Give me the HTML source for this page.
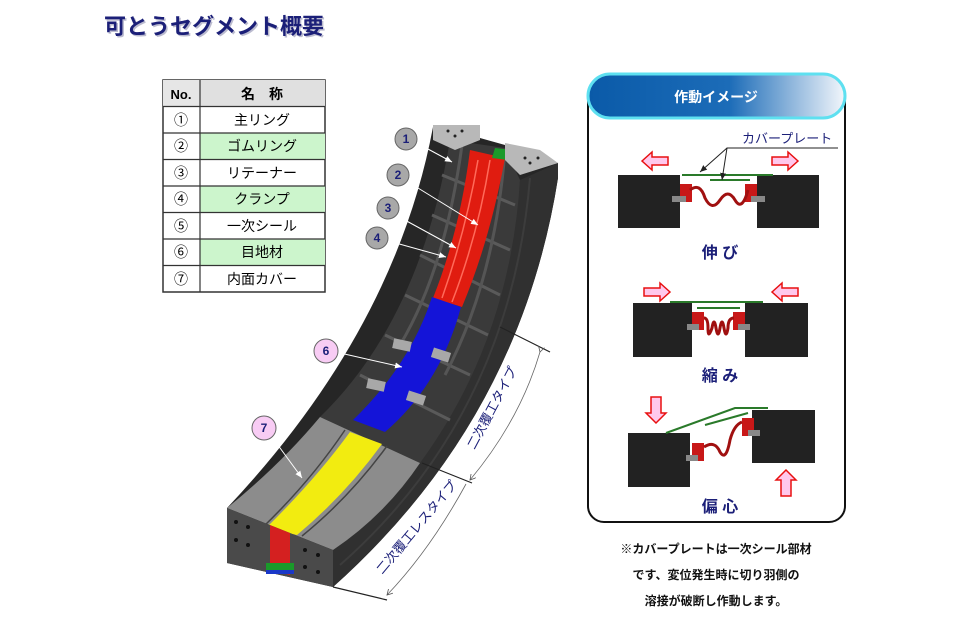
<!DOCTYPE html>
<html><head><meta charset="utf-8">
<style>
body{margin:0;background:#fff;width:957px;height:633px;overflow:hidden;font-family:"Liberation Sans","Noto Sans CJK JP",sans-serif;}
svg{position:absolute;left:0;top:0}
</style></head><body>
<svg width="957" height="633" viewBox="0 0 957 633" xmlns="http://www.w3.org/2000/svg" font-family="'Liberation Sans','Noto Sans CJK JP',sans-serif">
<defs>
<linearGradient id="hd" x1="0" x2="1" y1="0" y2="0">
<stop offset="0" stop-color="#0a5aa8"/><stop offset="0.55" stop-color="#1c6cb8"/><stop offset="1" stop-color="#f2f6fb"/>
</linearGradient>
<marker id="ar" markerWidth="8" markerHeight="8" refX="7" refY="4" orient="auto"><path d="M0,0 L7,4 L0,8" fill="none" stroke="#555" stroke-width="1"/></marker>
<marker id="aw" markerWidth="8" markerHeight="8" refX="7" refY="4" orient="auto"><path d="M0,1 L7,4 L0,7 z" fill="#fff"/></marker>
<marker id="ak" markerWidth="8" markerHeight="8" refX="7" refY="4" orient="auto"><path d="M0,1 L7,4 L0,7 z" fill="#222"/></marker>
</defs>

<text x="104" y="34" font-size="22" font-weight="bold" fill="#7a7aa0" opacity="0.5" transform="translate(1.5,1.5)">可とうセグメント概要</text>
<text x="104" y="34" font-size="22" font-weight="bold" fill="#1b1f78">可とうセグメント概要</text>

<g font-size="14" fill="#000">
<rect x="163" y="80" width="162" height="212" fill="#fff" stroke="#333" stroke-width="1.5"/>
<rect x="163" y="80" width="37" height="26" fill="#e6e6e6"/>
<rect x="200" y="80" width="125" height="26" fill="#e0e0e0"/>
<rect x="200" y="133" width="125" height="26.5" fill="#ccf5cc"/>
<rect x="200" y="186" width="125" height="26.5" fill="#ccf5cc"/>
<rect x="200" y="239" width="125" height="26.5" fill="#ccf5cc"/>
<g stroke="#333" stroke-width="1.2">
<line x1="200" y1="80" x2="200" y2="292"/>
<line x1="163" y1="106.5" x2="325" y2="106.5"/>
<line x1="163" y1="133" x2="325" y2="133"/>
<line x1="163" y1="159.5" x2="325" y2="159.5"/>
<line x1="163" y1="186" x2="325" y2="186"/>
<line x1="163" y1="212.5" x2="325" y2="212.5"/>
<line x1="163" y1="239" x2="325" y2="239"/>
<line x1="163" y1="265.5" x2="325" y2="265.5"/>
</g>
<text x="181" y="99" font-weight="bold" text-anchor="middle" font-size="13">No.</text>
<text x="262" y="99" font-weight="bold" text-anchor="middle">名　称</text>
<g text-anchor="middle">
<text x="181" y="125">①</text><text x="262" y="125">主リング</text>
<text x="181" y="151">②</text><text x="262" y="151">ゴムリング</text>
<text x="181" y="178">③</text><text x="262" y="178">リテーナー</text>
<text x="181" y="204">④</text><text x="262" y="204">クランプ</text>
<text x="181" y="231">⑤</text><text x="262" y="231">一次シール</text>
<text x="181" y="257">⑥</text><text x="262" y="257">目地材</text>
<text x="181" y="284">⑦</text><text x="262" y="284">内面カバー</text>
</g>
</g>

<!-- Segment -->
<path d="M433,127 Q395,330 227,508 L227,563 L333,587 Q520,420 558,178 L558,163 L505,145 L480,138 L480,128 Z" fill="#262626"/>
<path d="M520,180 Q500,410 333,550 L333,587 Q520,420 558,178 L558,163 Z" fill="#303030"/>
<path d="M530,178 Q510,415 340,565" stroke="#3c3c3c" stroke-width="2" fill="none"/>
<path d="M450,140 Q420,320 320,417 L420,463 Q510,340 520,180 L505,148 Z" fill="#3a3a3a"/>
<g stroke="#5a5a5a" stroke-width="3">
<line x1="442" y1="175" x2="515" y2="205"/>
<line x1="432" y1="215" x2="510" y2="250"/>
<line x1="420" y1="255" x2="500" y2="295"/>
<line x1="405" y1="295" x2="488" y2="335"/>
<line x1="385" y1="335" x2="470" y2="375"/>
<line x1="360" y1="375" x2="450" y2="420"/>
</g>
<path d="M462,145 Q445,270 400,345 M505,150 Q495,280 445,375" stroke="#555" stroke-width="3" fill="none"/>
<path d="M470,150 L505,158 Q490,240 462,307 L433,298 Q460,230 470,150Z" fill="#e01c10"/>
<path d="M478,160 Q466,230 442,298 M490,160 Q478,235 452,302" stroke="#ff6a5a" stroke-width="1.5" fill="none"/>
<path d="M495,148 L512,150 L508,160 L492,158Z" fill="#1a9a2a"/>
<path d="M432,297 L461,307 Q440,385 385,432 L353,420 Q410,365 432,297Z" fill="#1414d8"/>
<g fill="#a8a8a8"><rect x="393" y="340" width="18" height="10" transform="rotate(12 402 345)"/><rect x="432" y="350" width="18" height="10" transform="rotate(18 441 355)"/><rect x="367" y="380" width="18" height="10" transform="rotate(12 376 385)"/><rect x="407" y="393" width="18" height="10" transform="rotate(18 416 398)"/></g>
<path d="M227,508 Q280,465 320,417 L420,463 Q385,515 333,550 Z" fill="#8c8c8c"/>
<path d="M350,432 L382,444 Q345,495 297,535 L266,528 Q315,480 350,432Z" fill="#f2ec10"/>
<path d="M345,430 Q310,482 262,528 M387,446 Q350,497 302,536" stroke="#444" stroke-width="1.5" fill="none"/>
<path d="M227,508 L333,550 L333,587 L227,563Z" fill="#4a4a4a"/>
<path d="M270,525 L290,533 L290,575 L270,570Z" fill="#d42020"/>
<rect x="266" y="563" width="28" height="8" fill="#1a9a2a"/>
<rect x="266" y="570" width="28" height="4" fill="#1a38c8"/>
<g fill="#111"><circle cx="236" cy="522" r="2"/><circle cx="248" cy="527" r="2"/><circle cx="236" cy="540" r="2"/><circle cx="248" cy="545" r="2"/><circle cx="305" cy="550" r="2"/><circle cx="318" cy="555" r="2"/><circle cx="305" cy="567" r="2"/><circle cx="318" cy="572" r="2"/></g>
<path d="M433,125 L480,125 L480,140 L455,150 L433,140Z" fill="#b8b8b8"/>
<path d="M505,143 L540,150 L558,163 L520,175 L505,160Z" fill="#b8b8b8"/>
<g fill="#222"><circle cx="448" cy="131" r="1.5"/><circle cx="462" cy="131" r="1.5"/><circle cx="455" cy="136" r="1.5"/><circle cx="525" cy="158" r="1.5"/><circle cx="538" cy="158" r="1.5"/><circle cx="530" cy="163" r="1.5"/></g>

<g stroke="#fff" stroke-width="1" fill="none" marker-end="url(#aw)">
<line x1="415" y1="142" x2="452" y2="162"/>
<line x1="405" y1="180" x2="478" y2="225"/>
<line x1="392" y1="213" x2="456" y2="248"/>
<line x1="385" y1="240" x2="446" y2="257"/>
<line x1="340" y1="353" x2="402" y2="367"/>
<line x1="272" y1="437" x2="302" y2="478"/>
</g>
<g font-size="12" font-weight="bold" fill="#1b1f78" text-anchor="middle">
<circle cx="406" cy="139" r="11" fill="#a8a8a8" stroke="#666"/><text x="406" y="143">1</text>
<circle cx="398" cy="175" r="11" fill="#a8a8a8" stroke="#666"/><text x="398" y="179">2</text>
<circle cx="388" cy="208" r="11" fill="#a8a8a8" stroke="#666"/><text x="388" y="212">3</text>
<circle cx="377" cy="238" r="11" fill="#a8a8a8" stroke="#666"/><text x="377" y="242">4</text>
<circle cx="326" cy="351" r="12" fill="#f8ccf4" stroke="#666"/><text x="326" y="355">6</text>
<circle cx="264" cy="428" r="12" fill="#f8ccf4" stroke="#666"/><text x="264" y="432">7</text>
</g>

<g stroke="#222" stroke-width="1.2">
<line x1="500" y1="327" x2="550" y2="352"/>
<line x1="422" y1="463" x2="472" y2="483"/>
<line x1="333" y1="587" x2="387" y2="600"/>
</g>
<g stroke="#666" stroke-width="0.8" fill="none">
<path d="M540,352 Q520,420 470,480" marker-end="url(#ar)" marker-start="url(#ar)"/>
<path d="M466,484 Q430,550 387,595" marker-end="url(#ar)"/>
</g>
<text x="0" y="0" font-size="13" fill="#1b1f78" text-anchor="middle" transform="translate(496,410) rotate(-62)">二次覆工タイプ</text>
<text x="0" y="0" font-size="13" fill="#1b1f78" text-anchor="middle" transform="translate(420,530) rotate(-50)">二次覆工レスタイプ</text>

<rect x="588" y="80" width="257" height="442" rx="16" fill="#fff" stroke="#111" stroke-width="2"/>
<rect x="588" y="74" width="257" height="44" rx="22" fill="url(#hd)" stroke="#5ee0f0" stroke-width="3"/>
<text x="716" y="102" font-size="14" font-weight="bold" fill="#fff" text-anchor="middle">作動イメージ</text>

<g>
<rect x="618" y="175" width="62" height="53" fill="#222"/>
<rect x="757" y="175" width="62" height="53" fill="#222"/>
<line x1="682" y1="175" x2="773" y2="175" stroke="#2a7a2a" stroke-width="2"/>
<line x1="710" y1="180" x2="750" y2="180" stroke="#2a7a2a" stroke-width="2"/>
<rect x="680" y="184" width="12" height="18" fill="#c81818"/><rect x="745" y="184" width="12" height="18" fill="#c81818"/>
<rect x="672" y="196" width="14" height="6" fill="#888"/><rect x="751" y="196" width="14" height="6" fill="#888"/>
<path d="M690,190 Q700,182 705,198 Q712,212 720,200 Q728,188 735,200 Q742,212 748,190" stroke="#a01010" stroke-width="3" fill="none"/>
<path d="M642,161 l10,-9 v5 h16 v8 h-16 v5z" fill="#ffc8ec" stroke="#e81010" stroke-width="1.5"/>
<path d="M798,161 l-10,-9 v5 h-16 v8 h16 v5z" fill="#ffc8ec" stroke="#e81010" stroke-width="1.5"/>
<text x="742" y="143" font-size="13" fill="#1b1f78">カバープレート</text>
<polyline points="838,148 727,148 700,172" fill="none" stroke="#222" marker-end="url(#ak)"/>
<line x1="727" y1="148" x2="722" y2="180" stroke="#222" marker-end="url(#ak)"/>
<text x="720" y="258" font-size="16" font-weight="bold" fill="#1b1f78" text-anchor="middle">伸 び</text>
</g>
<g>
<rect x="633" y="303" width="59" height="54" fill="#222"/>
<rect x="745" y="303" width="63" height="54" fill="#222"/>
<line x1="670" y1="302" x2="763" y2="302" stroke="#2a7a2a" stroke-width="2"/>
<line x1="697" y1="308" x2="740" y2="308" stroke="#2a7a2a" stroke-width="2"/>
<rect x="692" y="312" width="12" height="18" fill="#c81818"/><rect x="733" y="312" width="12" height="18" fill="#c81818"/>
<rect x="687" y="324" width="12" height="6" fill="#888"/><rect x="738" y="324" width="12" height="6" fill="#888"/>
<path d="M704,318 q4,0 4,10 q0,12 4,0 q2,-12 4,0 q2,12 4,0 q2,-12 4,0 q2,12 4,0 q0,-10 6,-10" stroke="#a01010" stroke-width="3" fill="none"/>
<path d="M670,292 l-10,-9 v5 h-16 v8 h16 v5z" fill="#ffc8ec" stroke="#e81010" stroke-width="1.5"/>
<path d="M772,292 l10,-9 v5 h16 v8 h-16 v5z" fill="#ffc8ec" stroke="#e81010" stroke-width="1.5"/>
<text x="720" y="381" font-size="16" font-weight="bold" fill="#1b1f78" text-anchor="middle">縮 み</text>
</g>
<g>
<rect x="628" y="433" width="62" height="54" fill="#222"/>
<rect x="752" y="410" width="63" height="53" fill="#222"/>
<path d="M666,433 L735,408 L768,408" stroke="#2a7a2a" stroke-width="2" fill="none"/>
<line x1="705" y1="425" x2="748" y2="413" stroke="#2a7a2a" stroke-width="2"/>
<rect x="692" y="443" width="12" height="18" fill="#c81818"/><rect x="742" y="418" width="12" height="18" fill="#c81818"/>
<rect x="686" y="455" width="12" height="6" fill="#888"/><rect x="748" y="430" width="12" height="6" fill="#888"/>
<path d="M704,447 Q715,440 720,452 Q726,462 730,440 Q734,425 742,422" stroke="#a01010" stroke-width="3" fill="none"/>
<path d="M656,423 l-10,-10 h5 v-16 h10 v16 h5z" fill="#ffc8ec" stroke="#e81010" stroke-width="1.5"/>
<path d="M786,470 l-10,10 h5 v16 h10 v-16 h5z" fill="#ffc8ec" stroke="#e81010" stroke-width="1.5"/>
<text x="720" y="512" font-size="16" font-weight="bold" fill="#1b1f78" text-anchor="middle">偏 心</text>
</g>

<g font-size="12" font-weight="bold" fill="#111" text-anchor="middle">
<text x="716" y="553">※カバープレートは一次シール部材</text>
<text x="716" y="579">です、変位発生時に切り羽側の</text>
<text x="716" y="605">溶接が破断し作動します。</text>
</g>
</svg>
</body></html>
